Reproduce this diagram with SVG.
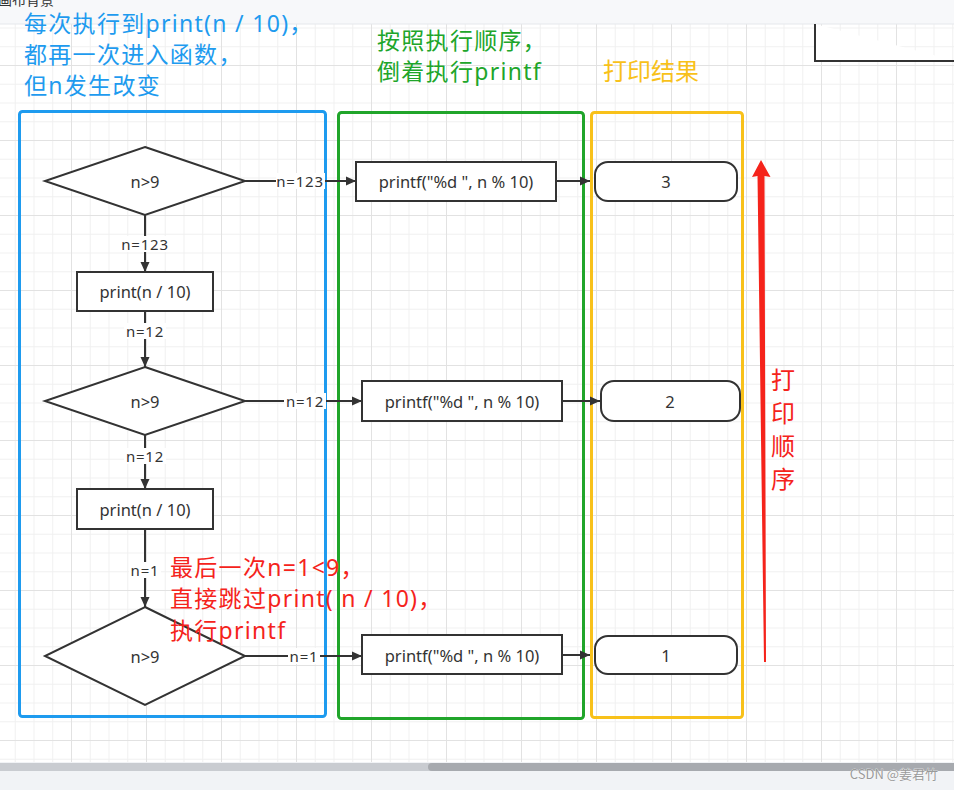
<svg xmlns="http://www.w3.org/2000/svg" width="954" height="790" viewBox="0 0 954 790">
<defs>
<pattern id="gMinor" patternUnits="userSpaceOnUse" x="-4" y="-10" width="18.75" height="18.75">
<rect x="0" y="0" width="1" height="18.75" fill="#f0f0f0"/>
<rect x="0" y="0" width="18.75" height="1" fill="#f0f0f0"/>
</pattern>
<pattern id="gMajor" patternUnits="userSpaceOnUse" x="-4" y="-10" width="75" height="75">
<rect x="0" y="0" width="1" height="75" fill="#e2e2e2"/>
<rect x="0" y="0" width="75" height="1" fill="#e2e2e2"/>
</pattern>
<marker id="ah" markerUnits="userSpaceOnUse" markerWidth="11" markerHeight="10" refX="10" refY="5" orient="auto">
<path d="M0,0.5 L10,5 L0,9.5 z" fill="#333"/>
</marker>
<style>
.shape{fill:#fff;stroke:#333;stroke-width:2}
.conn{fill:none;stroke:#333;stroke-width:2;marker-end:url(#ah)}
.lbl{font-family:"Noto Sans","Noto Sans CJK SC",sans-serif;font-size:15px;letter-spacing:0.8px;fill:#333;text-anchor:middle;dominant-baseline:central}
.lblbg{fill:#fff}
.txt{font-family:"Noto Sans","Noto Sans CJK SC",sans-serif;font-size:16.5px;fill:#333;text-anchor:middle;dominant-baseline:central}
.cjk{font-family:"Noto Sans","Noto Sans CJK SC",sans-serif;font-size:23px;letter-spacing:1.3px}
.cont{fill:none;stroke-width:3}
</style>
</defs>

<!-- background -->
<rect x="0" y="0" width="954" height="790" fill="#ffffff"/>
<rect x="0" y="24" width="954" height="738" fill="url(#gMinor)"/>
<rect x="0" y="24" width="954" height="738" fill="url(#gMajor)"/>
<rect x="0" y="0" width="954" height="24" fill="#f7f8fa"/>
<rect x="0" y="23.5" width="954" height="1" fill="#e6e8eb"/>
<text x="-2" y="5" font-family="Noto Sans CJK SC,sans-serif" font-size="14" fill="#333">画布背景</text>

<!-- top-right partial box -->
<path d="M815,24 V61 H956" fill="#fff" stroke="#333" stroke-width="2"/>

<!-- containers -->
<g id="container-blue"><rect class="cont" x="19.5" y="111.5" width="306" height="605" rx="3" stroke="#1e9bef"/></g>
<g id="container-green"><rect class="cont" x="338.5" y="112.5" width="245" height="606" rx="3" stroke="#20a52a"/></g>
<g id="container-yellow"><rect class="cont" x="591.5" y="112.5" width="151" height="605" rx="3" stroke="#f8c11a"/></g>

<!-- titles -->
<g id="title-blue" class="cjk" fill="#1e9bef">
<text x="24" y="32">每次执行到print(n / 10)，</text>
<text x="24" y="63">都再一次进入函数，</text>
<text x="24" y="94">但n发生改变</text>
</g>
<g id="title-green" class="cjk" fill="#20a52a">
<text x="377" y="49">按照执行顺序，</text>
<text x="377" y="80">倒着执行printf</text>
</g>
<g id="title-yellow"><text x="603" y="80" font-family="Noto Sans CJK SC,sans-serif" font-size="24" fill="#f8c11a">打印结果</text></g>

<!-- connectors -->
<g id="connectors">
<path class="conn" d="M245,181 H356"/>
<path class="conn" d="M145,215 V272"/>
<path class="conn" d="M145,311 V367"/>
<path class="conn" d="M245,401 H362"/>
<path class="conn" d="M145,435 V489"/>
<path class="conn" d="M145,529 V607"/>
<path class="conn" d="M245,656 H362"/>
<path class="conn" d="M556,181 H590"/>
<path class="conn" d="M562,401 H600"/>
<path class="conn" d="M562,655 H590"/>
<rect class="lblbg" x="276" y="173" width="49" height="16"/><text class="lbl" x="300" y="181">n=123</text>
<rect class="lblbg" x="120" y="236" width="50" height="16"/><text class="lbl" x="145" y="244">n=123</text>
<rect class="lblbg" x="124" y="323" width="42" height="16"/><text class="lbl" x="145" y="331">n=12</text>
<rect class="lblbg" x="284" y="393" width="42" height="16"/><text class="lbl" x="305" y="401">n=12</text>
<rect class="lblbg" x="124" y="448" width="42" height="16"/><text class="lbl" x="145" y="456">n=12</text>
<rect class="lblbg" x="129" y="562" width="32" height="16"/><text class="lbl" x="145" y="570">n=1</text>
<rect class="lblbg" x="288" y="648" width="32" height="16"/><text class="lbl" x="304" y="656">n=1</text>
</g>

<!-- nodes -->
<g id="d1"><polygon class="shape" points="145,147 245,181 145,215 45,181"/><text class="txt" x="145" y="181">n&gt;9</text></g>
<g id="b1"><rect class="shape" x="77" y="272" width="136" height="39"/><text class="txt" x="145" y="291.5">print(n / 10)</text></g>
<g id="d2"><polygon class="shape" points="145,367 245,401 145,435 45,401"/><text class="txt" x="145" y="401">n&gt;9</text></g>
<g id="b2"><rect class="shape" x="77" y="489" width="136" height="40"/><text class="txt" x="145" y="509">print(n / 10)</text></g>
<g id="d3"><polygon class="shape" points="145,607 245,656 145,705 45,656"/><text class="txt" x="145" y="656">n&gt;9</text></g>

<g id="p1"><rect class="shape" x="356" y="162" width="200" height="39"/><text class="txt" x="456" y="181.5">printf("%d ", n % 10)</text></g>
<g id="p2"><rect class="shape" x="362" y="381" width="200" height="40"/><text class="txt" x="462" y="401">printf("%d ", n % 10)</text></g>
<g id="p3"><rect class="shape" x="362" y="635" width="200" height="39"/><text class="txt" x="462" y="655">printf("%d ", n % 10)</text></g>

<g id="r1"><rect class="shape" x="595" y="162" width="142" height="39" rx="13"/><text class="txt" x="666" y="181.5">3</text></g>
<g id="r2"><rect class="shape" x="601" y="381" width="139" height="40" rx="13"/><text class="txt" x="670" y="401">2</text></g>
<g id="r3"><rect class="shape" x="595" y="636" width="142" height="38" rx="13"/><text class="txt" x="666" y="655">1</text></g>

<!-- red annotation -->
<g id="note-red" class="cjk" fill="#f5231b">
<text x="170" y="576">最后一次n=1&lt;9，</text>
<text x="170" y="607">直接跳过print( n / 10)，</text>
<text x="170" y="639">执行printf</text>
</g>

<!-- print order arrow -->
<g id="order-arrow">
<polygon points="761,160 770.5,177 764.5,176 766,662 764,662 757.5,176 752,177" fill="#f5231b"/>
<text x="783" y="368" writing-mode="vertical-rl" letter-spacing="9" font-family="Noto Sans CJK SC,sans-serif" font-size="24" fill="#f5231b">打印顺序</text>
</g>

<!-- scrollbar & footer -->
<rect x="0" y="762" width="954" height="28" fill="#f1f3f6"/>
<rect x="0" y="763" width="954" height="8" fill="#c9ccd1"/>
<rect x="428" y="763" width="530" height="8" rx="4" fill="#a7aaaf"/>
<text x="938" y="779" text-anchor="end" font-family="Noto Sans CJK SC,sans-serif" font-size="13" fill="#9a9a9a" stroke="#ffffff" stroke-width="0.6" paint-order="stroke">CSDN @姜君竹</text>
</svg>
